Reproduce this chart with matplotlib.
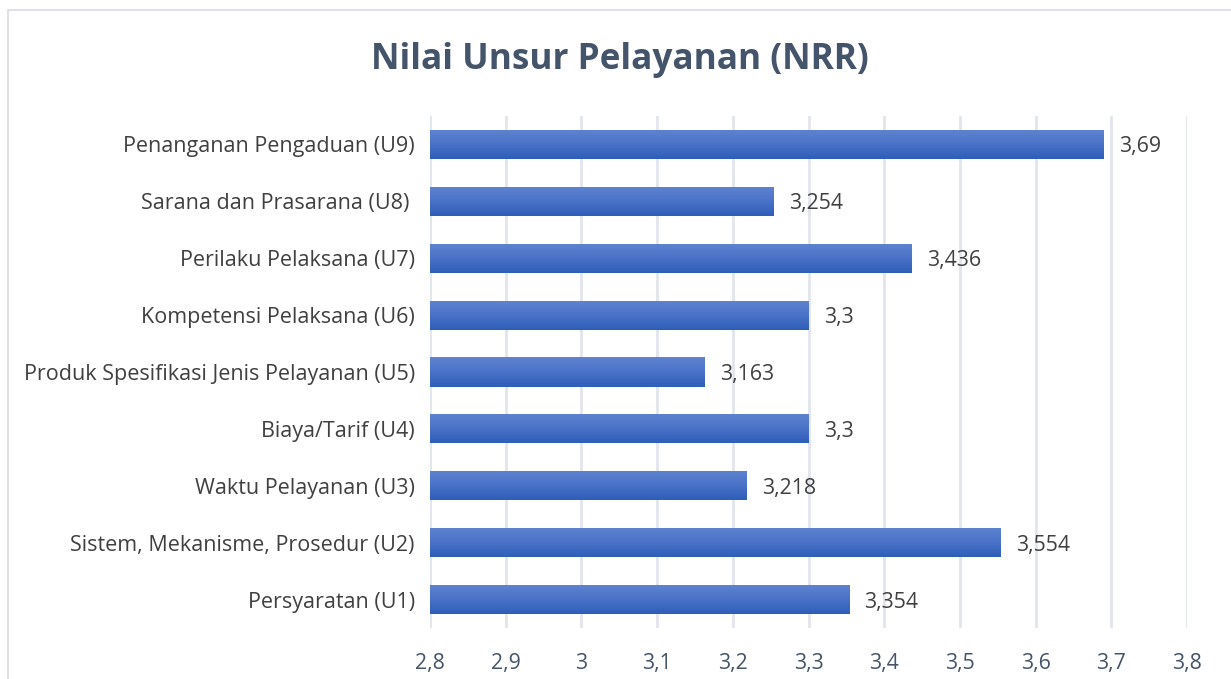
import matplotlib
matplotlib.use("Agg")
import matplotlib.pyplot as plt
import numpy as np
from matplotlib.colors import LinearSegmentedColormap

categories = [
    "Persyaratan (U1)",
    "Sistem, Mekanisme, Prosedur (U2)",
    "Waktu Pelayanan (U3)",
    "Biaya/Tarif (U4)",
    "Produk Spesifikasi Jenis Pelayanan (U5)",
    "Kompetensi Pelaksana (U6)",
    "Perilaku Pelaksana (U7)",
    "Sarana dan Prasarana (U8) ",
    "Penanganan Pengaduan (U9)",
]
values = [3.354, 3.554, 3.218, 3.3, 3.163, 3.3, 3.436, 3.254, 3.69]
value_labels = ["3,354", "3,554", "3,218", "3,3", "3,163", "3,3", "3,436", "3,254", "3,69"]
xticks = [2.8, 2.9, 3.0, 3.1, 3.2, 3.3, 3.4, 3.5, 3.6, 3.7, 3.8]
xtick_labels = ["2,8", "2,9", "3", "3,1", "3,2", "3,3", "3,4", "3,5", "3,6", "3,7", "3,8"]
title = "Nilai Unsur Pelayanan (NRR)"

plt.rcParams['font.family'] = ['Open Sans', 'DejaVu Sans']

W, H = 1231, 679
fig = plt.figure(figsize=(W / 100, H / 100), dpi=100)
fig.patch.set_facecolor("white")

# chart border
border = plt.Rectangle((8 / W, -0.1), 1.2, (H - 10) / H + 0.1, transform=fig.transFigure,
                       fill=False, edgecolor="#D9D9E6", linewidth=1.2)
fig.add_artist(border)

ax_left, ax_right = 430 / W, 1187 / W
ax_top, ax_bottom = 1 - 116 / H, 1 - 628 / H
ax = fig.add_axes([ax_left, ax_bottom, ax_right - ax_left, ax_top - ax_bottom])

y = np.arange(len(categories))
bars = ax.barh(y, [v - 2.8 for v in values], left=2.8, height=0.51, color="none", zorder=3)

cmap = LinearSegmentedColormap.from_list("g", ["#2E5EB8", "#4A72C8", "#5F84D0"])
grad = np.linspace(0, 1, 256).reshape(-1, 1)
for b in bars:
    x0, y0 = b.get_x(), b.get_y()
    w, h = b.get_width(), b.get_height()
    im = ax.imshow(grad, cmap=cmap, aspect="auto", origin="lower",
                   extent=[x0, x0 + w, y0, y0 + h], zorder=3, interpolation="bicubic")
    im.set_clip_path(b)

for i, (v, lab) in enumerate(zip(values, value_labels)):
    ax.text(v + 0.02, i, lab, va="center_baseline", ha="left", fontsize=15.3, color="#404040")

ax.set_xlim(2.8, 3.8)
ax.set_ylim(-0.5, len(categories) - 0.5)
ax.set_xticks(xticks)
ax.set_xticklabels(xtick_labels, fontsize=15.3, color="#44546A")
ax.set_yticks(y)
ax.set_yticklabels(categories, fontsize=15.5, color="#404040")
ax.tick_params(axis="both", length=0)
ax.tick_params(axis="x", pad=18)
ax.tick_params(axis="y", pad=11)
ax.grid(axis="x", color="#E1E5EC", linewidth=2, zorder=0)
ax.set_axisbelow(True)
for s in ax.spines.values():
    s.set_visible(False)

fig.text(0.5035, 1 - 60 / H, title, ha="center", va="center", fontsize=25.3,
         fontweight="bold", color="#44546A", family=["Open Sans", "DejaVu Sans"])

fig.savefig("out.png", dpi=100)
